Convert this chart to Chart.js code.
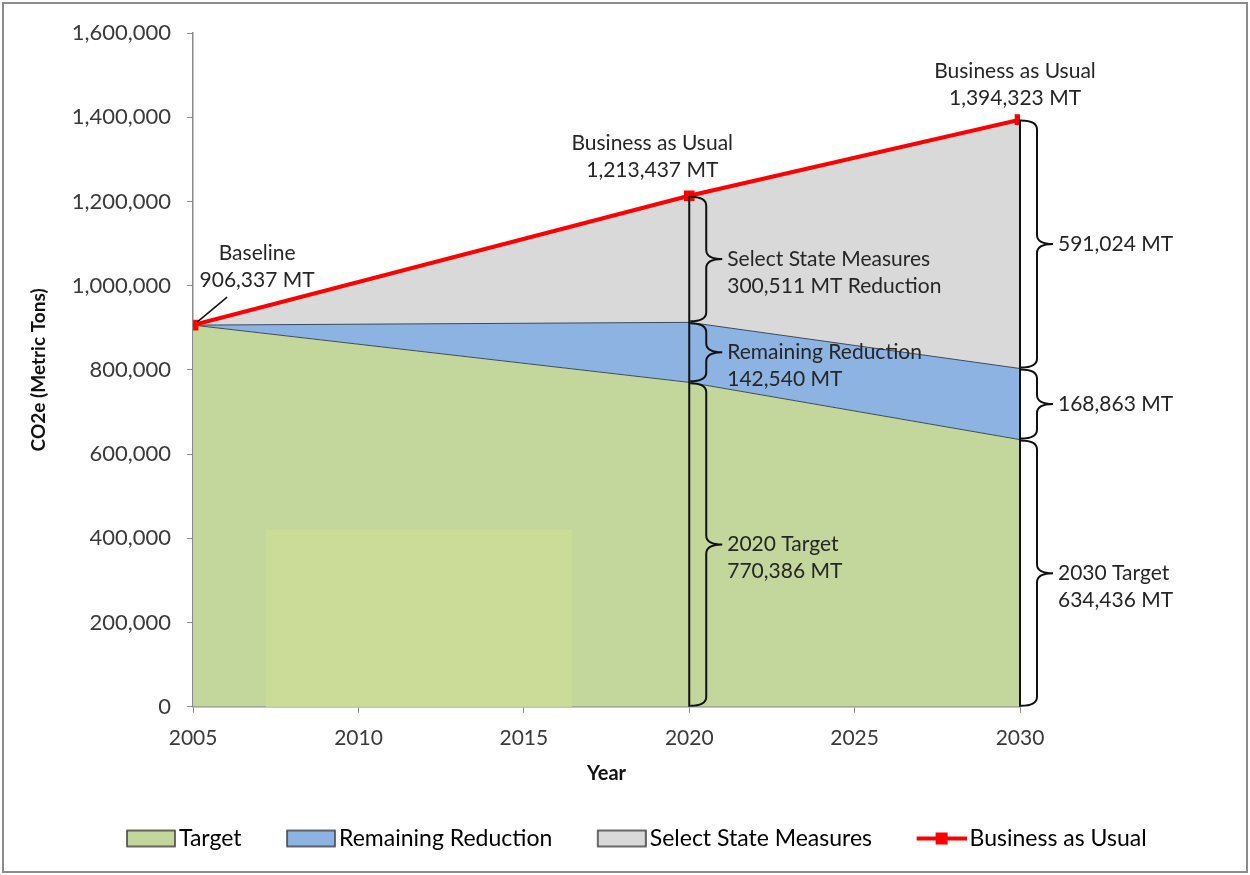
<!DOCTYPE html>
<html>
<head>
<meta charset="utf-8">
<script src="https://cdn.jsdelivr.net/npm/chart.js@4.4.1/dist/chart.umd.min.js"></script>
<style>
  html, body { margin: 0; padding: 0; background: #fff; }
</style>
</head>
<body>
<canvas id="chart" width="1250" height="875"></canvas>
<script>
// emissions path, metric tons CO2e
const years = [2005, 2020, 2030];
const target = [906337, 770386, 634436];
const remainingReduction = [0, 142540, 168863];
const stateMeasures = [0, 300511, 591024];
const businessAsUsual = [906337, 1213437, 1394323];

// lighter patch inside the target area (year range, tons range)
const patchYears = [2007.2, 2016.45];
const patchTons = [0, 422000];

const FONT = 'Lato, "Open Sans", sans-serif';
const TEXT = '#262626';
const fmt = v => v.toLocaleString('en-US');

const toPoints = vals => years.map((yr, i) => ({ x: yr, y: vals[i] }));

// legend icons: the swatch sits at the right end of a wider canvas,
// so the empty left part acts as spacing between legend entries
const ICON_W = 74;
function boxIcon(fill) {
  const c = document.createElement('canvas');
  c.width = ICON_W; c.height = 20;
  const g = c.getContext('2d');
  g.fillStyle = fill;
  g.fillRect(ICON_W - 49, 2, 48, 16);
  g.strokeStyle = '#3c3c3c';
  g.lineWidth = 1.5;
  g.strokeRect(ICON_W - 49, 2, 48, 16);
  return c;
}
function lineIcon(color) {
  const c = document.createElement('canvas');
  c.width = ICON_W; c.height = 20;
  const g = c.getContext('2d');
  g.strokeStyle = color;
  g.lineWidth = 4;
  g.beginPath(); g.moveTo(ICON_W - 50, 10); g.lineTo(ICON_W, 10); g.stroke();
  g.fillStyle = color;
  g.fillRect(ICON_W - 31, 4, 12, 12);
  return c;
}

function drawBrace(ctx, x0, yTop, yBot) {
  const spine = x0 + 17, tip = x0 + 33;
  const r = Math.min(9, (yBot - yTop) / 4);
  const mid = (yTop + yBot) / 2;
  ctx.beginPath();
  ctx.moveTo(x0 + 1, yTop);
  ctx.quadraticCurveTo(spine, yTop, spine, yTop + r);
  ctx.lineTo(spine, mid - r);
  ctx.quadraticCurveTo(spine, mid, tip, mid);
  ctx.quadraticCurveTo(spine, mid, spine, mid + r);
  ctx.lineTo(spine, yBot - r);
  ctx.quadraticCurveTo(spine, yBot, x0 + 1, yBot);
  ctx.stroke();
  return { x: tip + 5, y: mid };
}

function drawLines(ctx, lines, x, y, align) {
  ctx.textAlign = align;
  lines.forEach((t, k) => ctx.fillText(t, x, y + k * 27));
}

const frame = {
  id: 'frame',
  beforeDraw(chart) {
    const { ctx, width, height } = chart;
    ctx.save();
    ctx.fillStyle = '#fff';
    ctx.fillRect(0, 0, width, height);
    ctx.strokeStyle = '#8c8c8c';
    ctx.lineWidth = 2;
    ctx.strokeRect(3, 3, width - 6, height - 6);
    ctx.restore();
  }
};

const annotations = {
  id: 'annotations',
  afterDatasetsDraw(chart) {
    const { ctx, scales: { x, y } } = chart;
    ctx.save();

    // lighter patch
    ctx.fillStyle = '#cbdc98';
    const px0 = x.getPixelForValue(patchYears[0]), px1 = x.getPixelForValue(patchYears[1]);
    const py0 = y.getPixelForValue(patchTons[1]), py1 = y.getPixelForValue(patchTons[0]);
    ctx.fillRect(px0, py0, px1 - px0, py1 - py0);

    ctx.font = '21px ' + FONT;
    ctx.fillStyle = TEXT;
    ctx.textBaseline = 'middle';

    // brackets at 2020 and 2030
    [1, 2].forEach(i => {
      const xp = x.getPixelForValue(years[i]);
      const b1 = target[i];
      const b2 = b1 + remainingReduction[i];
      const b3 = b2 + stateMeasures[i];
      ctx.strokeStyle = '#111';
      ctx.lineWidth = 2;
      ctx.beginPath();
      ctx.moveTo(xp, y.getPixelForValue(0));
      ctx.lineTo(xp, y.getPixelForValue(businessAsUsual[i]));
      ctx.stroke();

      const labels = i === 1
        ? [[`${years[i]} Target`, `${fmt(target[i])} MT`],
           ['Remaining Reduction', `${fmt(remainingReduction[i])} MT`],
           ['Select State Measures', `${fmt(stateMeasures[i])} MT Reduction`]]
        : [[`${years[i]} Target`, `${fmt(target[i])} MT`],
           [`${fmt(remainingReduction[i])} MT`],
           [`${fmt(stateMeasures[i])} MT`]];
      const bounds = [0, b1, b2, b3];
      for (let k = 0; k < 3; k++) {
        const yTop = y.getPixelForValue(bounds[k + 1]);
        const yBot = y.getPixelForValue(bounds[k]);
        const at = drawBrace(ctx, xp, yTop + 1, yBot - 1);
        drawLines(ctx, labels[k], at.x, at.y, 'left');
      }
    });

    // business as usual callouts
    const p1x = x.getPixelForValue(years[1]), p1y = y.getPixelForValue(businessAsUsual[1]);
    drawLines(ctx, ['Business as Usual', `${fmt(businessAsUsual[1])} MT`], p1x - 37, p1y - 53, 'center');
    const p2x = x.getPixelForValue(years[2]), p2y = y.getPixelForValue(businessAsUsual[2]);
    drawLines(ctx, ['Business as Usual', `${fmt(businessAsUsual[2])} MT`], p2x - 5, p2y - 48, 'center');

    // baseline callout with pointer
    const p0x = x.getPixelForValue(years[0]), p0y = y.getPixelForValue(businessAsUsual[0]);
    drawLines(ctx, ['Baseline', `${fmt(businessAsUsual[0])} MT`], p0x + 64, p0y - 72, 'center');
    ctx.strokeStyle = '#111';
    ctx.lineWidth = 1.5;
    ctx.beginPath();
    ctx.moveTo(p0x + 34, p0y - 28);
    ctx.lineTo(p0x + 4, p0y - 3);
    ctx.stroke();

    ctx.restore();
  }
};

new Chart(document.getElementById('chart'), {
  type: 'line',
  data: {
    datasets: [
      {
        label: 'Target',
        data: toPoints(target),
        backgroundColor: '#c3d69b',
        borderColor: '#3d4a5c',
        borderWidth: 1,
        fill: 'origin',
        pointRadius: 0,
        order: 1
      },
      {
        label: 'Remaining Reduction',
        data: toPoints(remainingReduction),
        backgroundColor: '#8db3e2',
        borderColor: '#3d4a5c',
        borderWidth: 1,
        fill: '-1',
        pointRadius: 0,
        order: 1
      },
      {
        label: 'Select State Measures',
        data: toPoints(stateMeasures),
        backgroundColor: '#d9d9d9',
        borderColor: '#3d4a5c',
        borderWidth: 1,
        fill: '-1',
        pointRadius: 0,
        order: 1
      },
      {
        label: 'Business as Usual',
        data: toPoints(businessAsUsual),
        stack: 'bau',
        borderColor: '#ff0000',
        backgroundColor: '#ff0000',
        borderWidth: 4,
        fill: false,
        pointStyle: 'rect',
        pointRadius: 7.5,
        pointBorderWidth: 0,
        order: -1
      }
    ]
  },
  options: {
    responsive: false,
    animation: false,
    devicePixelRatio: 1,
    layout: { padding: { left: 27, right: 20, top: 33, bottom: 15 } },
    plugins: {
      tooltip: { enabled: false },
      legend: {
        position: 'bottom',
        labels: {
          usePointStyle: true,
          pointStyleWidth: 57,
          boxHeight: 20,
          padding: 29,
          color: TEXT,
          font: { family: FONT, size: 23 },
          generateLabels(chart) {
            return chart.data.datasets.map((ds, i) => ({
              text: ds.label,
              pointStyle: ds.fill === false ? lineIcon(ds.borderColor) : boxIcon(ds.backgroundColor),
              fillStyle: ds.backgroundColor,
              strokeStyle: 'transparent',
              lineWidth: 0,
              hidden: false,
              datasetIndex: i
            }));
          }
        }
      }
    },
    scales: {
      x: {
        type: 'linear',
        min: 2005,
        max: 2030,
        grid: { drawOnChartArea: false, tickLength: 6, color: '#8a8a8a' },
        border: { color: '#8a8a8a', width: 1.5 },
        ticks: {
          stepSize: 5,
          padding: 13,
          color: '#3a3a3a',
          font: { family: FONT, size: 21 },
          callback: v => String(v)
        },
        title: {
          display: true,
          text: 'Year',
          color: '#111',
          font: { family: FONT, size: 20, weight: 'bold', lineHeight: 1 },
          padding: { top: 0, bottom: 14 }
        }
      },
      y: {
        stacked: true,
        min: 0,
        max: 1600000,
        grid: { drawOnChartArea: false, tickLength: 6, color: '#8a8a8a' },
        border: { color: '#8a8a8a', width: 1.5 },
        ticks: {
          stepSize: 200000,
          padding: 16,
          color: '#3a3a3a',
          font: { family: FONT, size: 22 },
          callback: v => fmt(v)
        },
        title: {
          display: true,
          text: 'CO2e (Metric Tons)',
          color: '#111',
          font: { family: FONT, size: 19, weight: 'bold' },
          padding: { top: 0, bottom: 6 }
        }
      },
      // reserves room on the right for the bracket labels
      labels: {
        position: 'right',
        grid: { display: false },
        border: { display: false },
        ticks: { display: false },
        afterFit(scale) { scale.width = 210; }
      }
    }
  },
  plugins: [frame, annotations]
});
</script>
</body>
</html>
